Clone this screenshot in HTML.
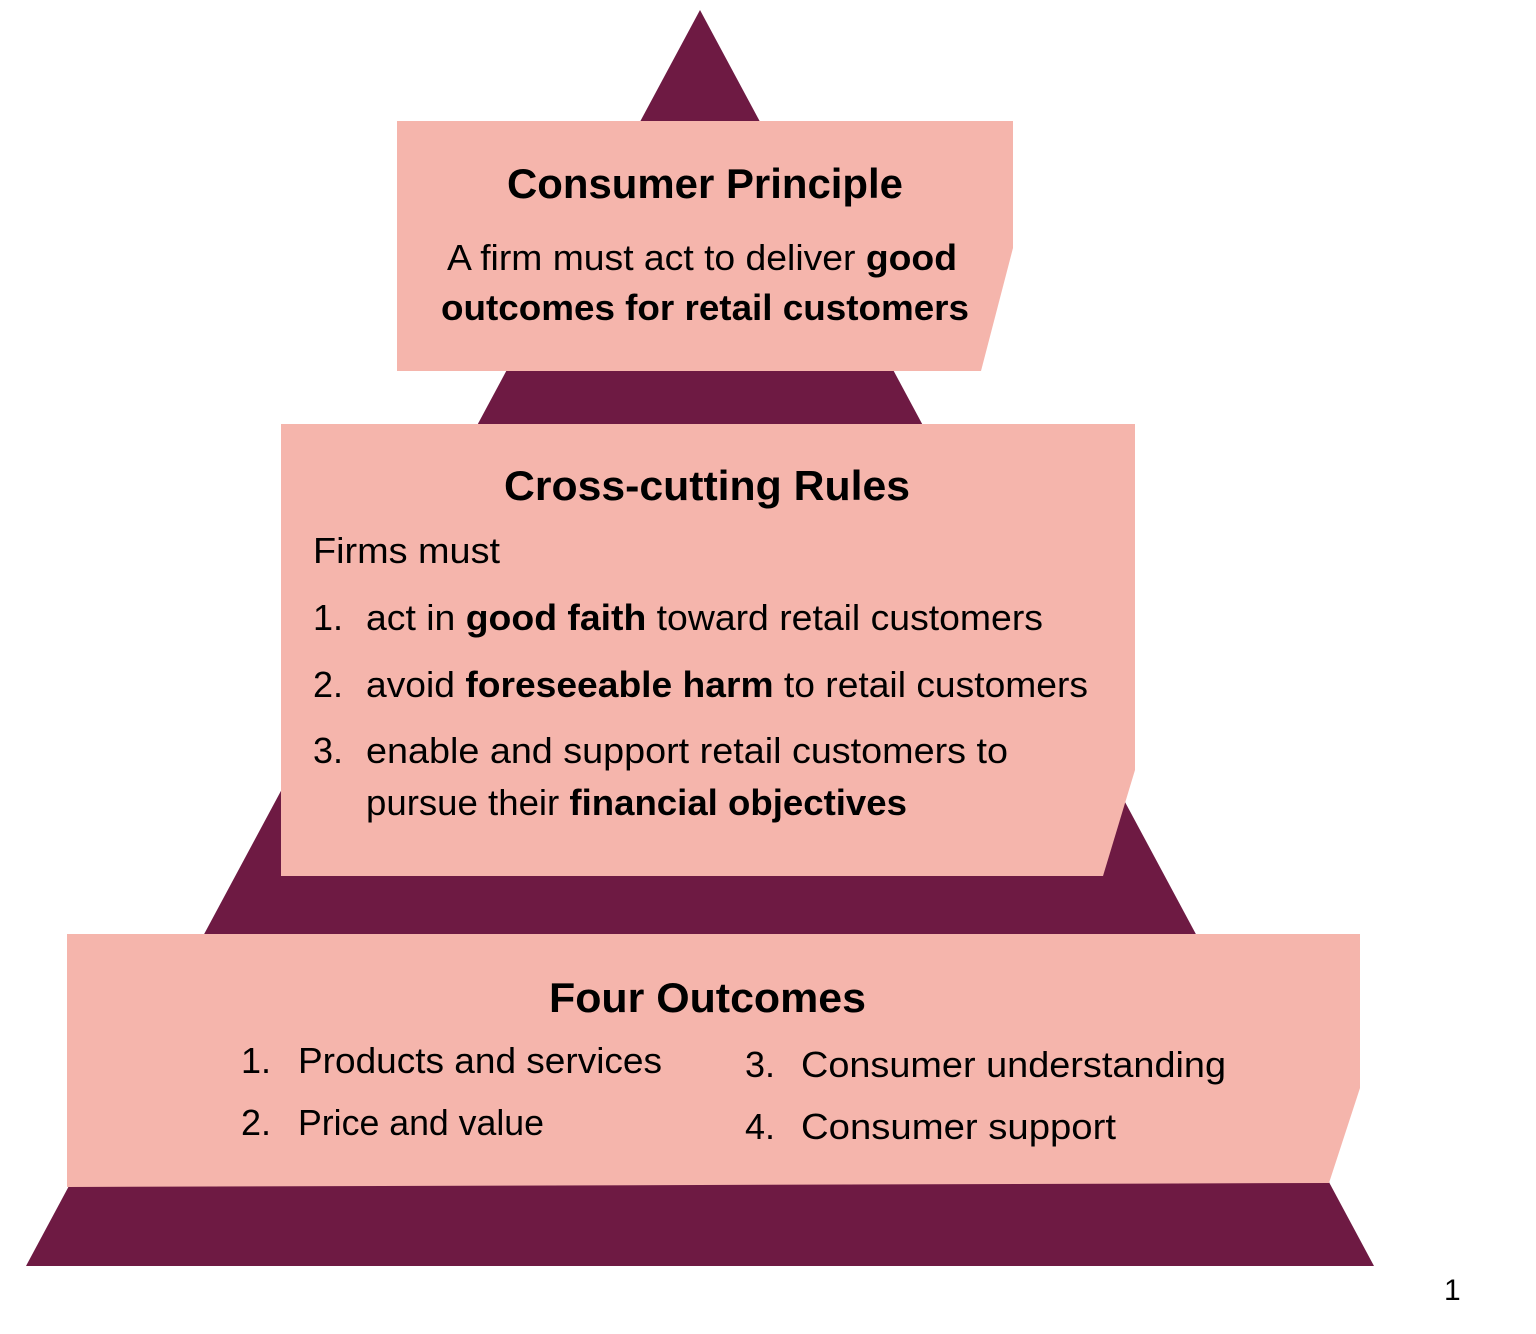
<!DOCTYPE html>
<html><head><meta charset="utf-8"><style>
html,body{margin:0;padding:0;background:#fff;}
svg{display:block;}
text{font-family:"Liberation Sans",sans-serif;fill:#000;}
.b{font-weight:bold;}
</style></head><body>
<svg width="1536" height="1334" viewBox="0 0 1536 1334" xmlns="http://www.w3.org/2000/svg">
<polygon points="700,10 26,1266 1374,1266" fill="#6e1a43"/>
<polygon points="397,121 1013,121 1013,248 981,371 397,371" fill="#f5b5ac"/>
<polygon points="281,424 1135,424 1135,770 1103,876 281,876" fill="#f5b5ac"/>
<polygon points="67,934 1360,934 1360,1088 1329,1183 67,1187" fill="#f5b5ac"/>

<text x="507" y="198" font-size="42" class="b" textLength="396" lengthAdjust="spacingAndGlyphs">Consumer Principle</text>
<text x="447" y="270" font-size="36" textLength="510" lengthAdjust="spacingAndGlyphs">A firm must act to deliver <tspan class="b">good</tspan></text>
<text x="441" y="320" font-size="36" class="b" textLength="528" lengthAdjust="spacingAndGlyphs">outcomes for retail customers</text>

<text x="504" y="500" font-size="42" class="b" textLength="406" lengthAdjust="spacingAndGlyphs">Cross-cutting Rules</text>
<text x="313" y="563" font-size="36" textLength="187" lengthAdjust="spacingAndGlyphs">Firms must</text>
<text x="313" y="630" font-size="36">1.</text>
<text x="366" y="630" font-size="36" textLength="677" lengthAdjust="spacingAndGlyphs">act in <tspan class="b">good faith</tspan> toward retail customers</text>
<text x="313" y="697" font-size="36">2.</text>
<text x="366" y="697" font-size="36" textLength="722" lengthAdjust="spacingAndGlyphs">avoid <tspan class="b">foreseeable harm</tspan> to retail customers</text>
<text x="313" y="763" font-size="36">3.</text>
<text x="366" y="763" font-size="36" textLength="642" lengthAdjust="spacingAndGlyphs">enable and support retail customers to</text>
<text x="366" y="815" font-size="36" textLength="541" lengthAdjust="spacingAndGlyphs">pursue their <tspan class="b">financial objectives</tspan></text>

<text x="549" y="1012" font-size="42" class="b" textLength="317" lengthAdjust="spacingAndGlyphs">Four Outcomes</text>
<text x="241" y="1073" font-size="36">1.</text>
<text x="298" y="1073" font-size="36" textLength="364" lengthAdjust="spacingAndGlyphs">Products and services</text>
<text x="241" y="1135" font-size="36">2.</text>
<text x="298" y="1135" font-size="36" textLength="246" lengthAdjust="spacingAndGlyphs">Price and value</text>
<text x="745" y="1077" font-size="36">3.</text>
<text x="801" y="1077" font-size="36" textLength="425" lengthAdjust="spacingAndGlyphs">Consumer understanding</text>
<text x="745" y="1139" font-size="36">4.</text>
<text x="801" y="1139" font-size="36" textLength="315" lengthAdjust="spacingAndGlyphs">Consumer support</text>

<text x="1444" y="1300" font-size="30">1</text>
</svg>
</body></html>
